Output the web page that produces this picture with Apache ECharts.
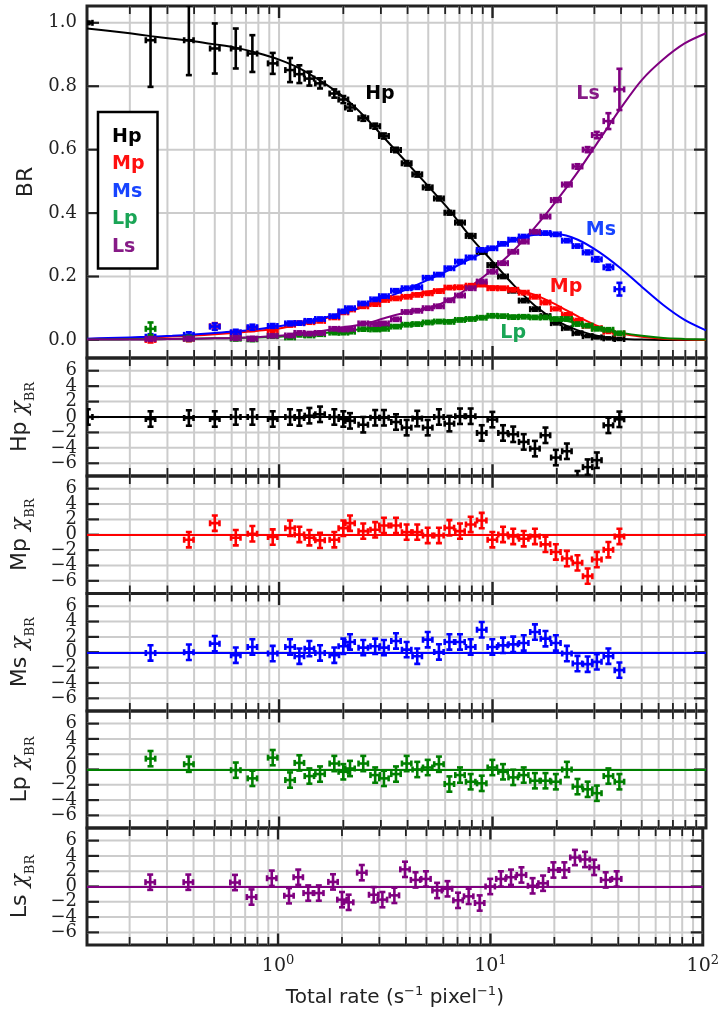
<!DOCTYPE html>
<html>
<head>
<meta charset="utf-8">
<script src="https://cdn.jsdelivr.net/npm/echarts@6.0.0/dist/echarts.min.js"></script>
<style>
  html, body { margin: 0; padding: 0; background: #fff; }
  #chart { width: 722px; height: 1015px; }
</style>
</head>
<body>
<div id="chart"></div>
<script>
// ---- model curves (BR vs total rate) ----
const curveX = [0.126, 0.158, 0.2, 0.251, 0.316, 0.398, 0.501, 0.631, 0.794, 1, 1.26, 1.58, 2, 2.51, 3.16, 3.98, 5.01, 6.31, 7.94, 10, 12.6, 15.8, 20, 25.1, 31.6, 39.8, 50.1, 63.1, 79.4, 100];
const hpModel = [0.982, 0.975, 0.967, 0.958, 0.950, 0.942, 0.932, 0.921, 0.905, 0.884, 0.855, 0.815, 0.767, 0.705, 0.632, 0.558, 0.484, 0.408, 0.322, 0.247, 0.172, 0.108, 0.060, 0.030, 0.012, 0.004, 0.001, 0, 0, 0];
const mpModel = [0.003, 0.004, 0.006, 0.008, 0.011, 0.014, 0.018, 0.023, 0.029, 0.036, 0.05, 0.065, 0.084, 0.105, 0.125, 0.14, 0.153, 0.163, 0.169, 0.169, 0.16, 0.142, 0.11, 0.074, 0.042, 0.021, 0.01, 0.004, 0.001, 0];
const msModel = [0.004, 0.006, 0.008, 0.01, 0.013, 0.017, 0.022, 0.027, 0.034, 0.043, 0.054, 0.068, 0.085, 0.106, 0.132, 0.16, 0.19, 0.222, 0.257, 0.288, 0.315, 0.332, 0.333, 0.316, 0.277, 0.226, 0.167, 0.11, 0.063, 0.03];
const lpModel = [0.001, 0.001, 0.002, 0.002, 0.003, 0.004, 0.005, 0.006, 0.008, 0.01, 0.015, 0.021, 0.028, 0.035, 0.043, 0.049, 0.056, 0.062, 0.069, 0.074, 0.076, 0.073, 0.066, 0.052, 0.036, 0.023, 0.013, 0.006, 0.003, 0.001];
const lsModel = [0.001, 0.001, 0.001, 0.002, 0.003, 0.004, 0.005, 0.006, 0.009, 0.013, 0.02, 0.028, 0.04, 0.05, 0.07, 0.087, 0.1, 0.127, 0.17, 0.222, 0.283, 0.355, 0.44, 0.53, 0.63, 0.73, 0.82, 0.885, 0.935, 0.967];

// ---- measured BR per rate bin ----
const rateX = [0.127, 0.25, 0.378, 0.5, 0.627, 0.75, 0.934, 1.126, 1.245, 1.387, 1.556, 1.815, 2.0, 2.15, 2.48, 2.82, 3.1, 3.53, 3.96, 4.44, 4.97, 5.61, 6.28, 7.04, 7.9, 8.9, 9.98, 11.2, 12.5, 14.0, 15.8, 17.7, 19.8, 22.3, 25.0, 27.9, 30.8, 34.9, 39.3];
const hpBR = [1.0, 0.945, 0.945, 0.919, 0.919, 0.903, 0.872, 0.851, 0.838, 0.824, 0.809, 0.777, 0.758, 0.733, 0.699, 0.674, 0.643, 0.599, 0.557, 0.522, 0.481, 0.446, 0.401, 0.370, 0.328, 0.278, 0.236, 0.200, 0.155, 0.124, 0.097, 0.075, 0.053, 0.037, 0.021, 0.012, 0.008, 0.005, 0.003];
const hpErr = [0.004, 0.147, 0.11, 0.079, 0.063, 0.058, 0.033, 0.038, 0.028, 0.022, 0.016, 0.013, 0.011, 0.01, 0.008, 0.008, 0.008, 0.007, 0.007, 0.007, 0.007, 0.006, 0.006, 0.006, 0.006, 0.006, 0.006, 0.005, 0.005, 0.005, 0.005, 0.005, 0.004, 0.004, 0.004, 0.003, 0.003, 0.003, 0.003];
const mpBR = [null, 0.0, 0.004, 0.043, 0.022, 0.036, 0.03, 0.048, 0.053, 0.056, 0.06, 0.071, 0.087, 0.096, 0.106, 0.113, 0.126, 0.131, 0.136, 0.142, 0.147, 0.154, 0.165, 0.166, 0.171, 0.175, 0.163, 0.163, 0.158, 0.149, 0.136, 0.118, 0.098, 0.08, 0.062, 0.044, 0.037, 0.026, 0.02];
const mpErr = [null, 0.008, 0.008, 0.01, 0.008, 0.008, 0.006, 0.006, 0.005, 0.005, 0.005, 0.005, 0.005, 0.005, 0.005, 0.005, 0.005, 0.005, 0.005, 0.005, 0.005, 0.005, 0.005, 0.005, 0.005, 0.005, 0.005, 0.005, 0.005, 0.005, 0.005, 0.005, 0.004, 0.004, 0.004, 0.004, 0.004, 0.004, 0.004];
const msBR = [null, 0.01, 0.016, 0.042, 0.024, 0.04, 0.044, 0.052, 0.053, 0.06, 0.066, 0.075, 0.09, 0.1, 0.115, 0.128, 0.138, 0.155, 0.163, 0.166, 0.196, 0.206, 0.226, 0.247, 0.26, 0.284, 0.289, 0.303, 0.316, 0.326, 0.338, 0.337, 0.333, 0.313, 0.296, 0.276, 0.254, 0.229, 0.16];
const msErr = [null, 0.008, 0.008, 0.01, 0.008, 0.008, 0.006, 0.006, 0.005, 0.005, 0.005, 0.005, 0.005, 0.005, 0.005, 0.005, 0.005, 0.005, 0.005, 0.005, 0.005, 0.005, 0.005, 0.005, 0.005, 0.005, 0.005, 0.005, 0.005, 0.005, 0.005, 0.005, 0.005, 0.005, 0.005, 0.006, 0.007, 0.008, 0.02];
const lpBR = [null, 0.035, 0.005, null, 0.004, 0.002, 0.012, 0.008, 0.016, 0.014, 0.018, 0.023, 0.023, 0.026, 0.034, 0.033, 0.035, 0.042, 0.048, 0.05, 0.055, 0.058, 0.057, 0.063, 0.066, 0.07, 0.076, 0.075, 0.072, 0.073, 0.071, 0.071, 0.066, 0.066, 0.05, 0.045, 0.035, 0.032, 0.021];
const lpErr = [null, 0.02, 0.008, null, 0.006, 0.006, 0.005, 0.005, 0.005, 0.005, 0.005, 0.005, 0.005, 0.005, 0.005, 0.005, 0.005, 0.005, 0.005, 0.005, 0.005, 0.005, 0.005, 0.005, 0.005, 0.005, 0.005, 0.005, 0.005, 0.005, 0.005, 0.005, 0.005, 0.005, 0.005, 0.005, 0.005, 0.005, 0.005];
const lsBR = [null, 0.003, 0.004, null, 0.006, 0.004, 0.013, 0.014, 0.022, 0.02, 0.022, 0.035, 0.033, 0.035, 0.052, 0.05, 0.052, 0.065, 0.088, 0.092, 0.1, 0.106, 0.125, 0.14, 0.163, 0.184, 0.215, 0.242, 0.278, 0.31, 0.341, 0.389, 0.441, 0.49, 0.547, 0.6, 0.646, 0.69, 0.79];
const lsErr = [null, 0.006, 0.006, null, 0.006, 0.006, 0.005, 0.005, 0.005, 0.005, 0.005, 0.005, 0.005, 0.005, 0.005, 0.005, 0.005, 0.005, 0.005, 0.005, 0.005, 0.005, 0.005, 0.005, 0.005, 0.005, 0.005, 0.005, 0.005, 0.005, 0.005, 0.005, 0.006, 0.006, 0.007, 0.008, 0.01, 0.025, 0.065];

// ---- normalised residuals (chi) ----
const hpChi = [0, -0.26, -0.13, -0.26, 0, 0, -0.26, 0, -0.13, 0.17, 0.35, 0, -0.26, -0.5, -1.0, -0.1, -0.1, -0.65, -1.38, -0.2, -1.38, 0, -0.86, 0.1, 0.1, -2.07, -0.34, -2.07, -2.24, -3.23, -4.1, -2.37, -5.26, -4.44, -8.0, -6.5, -5.6, -1.08, -0.3];
const mpChi = [null, null, -0.65, 1.51, -0.39, 0.13, -0.3, 0.86, 0.04, -0.39, -0.73, -0.65, 0.86, 1.51, 0.47, 0.65, 1.21, 1.21, 0.34, 0.34, -0.09, -0.09, 0.9, 0.47, 1.34, 1.85, -0.65, 0.04, -0.22, -0.52, -0.22, -1.25, -2.24, -3.1, -3.66, -5.39, -3.23, -1.94, -0.22];
const msChi = [null, -0.09, 0, 1.12, -0.39, 0.69, -0.17, 0.69, -0.52, 0.47, -0.09, -0.39, 0.78, 1.34, 0.6, 0.78, 0.6, 1.47, 0.34, -0.52, 1.64, 0.04, 1.34, 1.34, 0.69, 2.93, 0.69, 0.9, 1.03, 1.21, 2.63, 1.77, 1.21, -0.17, -1.47, -1.55, -1.25, -0.52, -2.33];
const lpChi = [null, 1.42, 0.69, null, -0.09, -1.16, 1.55, -1.38, 0.86, -0.86, -0.6, 0.78, -0.3, 0.13, 0.78, -0.73, -1.16, -0.6, 0.78, 0, 0.26, 0.69, -1.9, -0.73, -1.6, -1.81, 0.26, -0.3, -1.03, -0.73, -1.47, -1.47, -1.6, 0, -2.24, -2.59, -3.1, -0.86, -1.6];
const lsChi = [null, 0.56, 0.56, null, 0.52, -1.38, 1.08, -1.21, 1.21, -0.86, -0.86, 0.6, -1.72, -2.07, 1.81, -1.08, -1.72, -1.16, 2.24, 0.86, 0.99, -0.52, -0.3, -1.81, -1.29, -2.16, 0, 0.99, 1.21, 1.51, 0.09, 0.43, 2.16, 2.16, 3.79, 3.53, 2.5, 0.86, 0.99];

// ---- ticks ----
const xTicks = [0.2, 0.3, 0.4, 0.5, 0.6, 0.7, 0.8, 0.9, 1, 2, 3, 4, 5, 6, 7, 8, 9, 10, 20, 30, 40, 50, 60, 70, 80, 90];
const brTicks = [0, 0.2, 0.4, 0.6, 0.8, 1.0];
const chiTicks = [-6, -4, -2, 0, 2, 4, 6];

// ---- in-plot labels ----
const annotNames = ['Hp', 'Ls', 'Ms', 'Mp', 'Lp'];
const annotX = [2.97, 28.0, 32.2, 22.1, 12.5];
const annotY = [0.775, 0.775, 0.347, 0.167, 0.022];

const X_MIN = 0.126, X_MAX = 100;
const XERR = 1.052;   // half-width of the bin bars (log)
const CHI_ERR = 1;
const COLORS = { Hp: '#000000', Mp: '#ff0000', Ms: '#0000ff', Lp: '#008000', Ls: '#800080' };
const TEXT_COLORS = { Hp: '#000000', Mp: '#ff1010', Ms: '#1744ff', Lp: '#1aa556', Ls: '#861a86' };
const FRAME = '#222222';
const TICK_FONT = '18px "DejaVu Serif"';

const comps = [
  { name: 'Hp', model: hpModel, br: hpBR, err: hpErr, chi: hpChi },
  { name: 'Mp', model: mpModel, br: mpBR, err: mpErr, chi: mpChi },
  { name: 'Ms', model: msModel, br: msBR, err: msErr, chi: msChi },
  { name: 'Lp', model: lpModel, br: lpBR, err: lpErr, chi: lpChi },
  { name: 'Ls', model: lsModel, br: lsBR, err: lsErr, chi: lsChi }
];

const panels = [
  { top: 6, height: 352, min: -0.057, max: 1.053, ticks: brTicks },
  { top: 358, height: 118, min: -7.65, max: 7.65, ticks: chiTicks },
  { top: 476, height: 117.5, min: -7.65, max: 7.65, ticks: chiTicks },
  { top: 593.5, height: 117.5, min: -7.65, max: 7.65, ticks: chiTicks },
  { top: 711, height: 117, min: -7.65, max: 7.65, ticks: chiTicks },
  { top: 828, height: 117, min: -7.65, max: 7.65, ticks: chiTicks }
];

const isDecade = v => Math.abs(Math.log10(v) - Math.round(Math.log10(v))) < 1e-9;
const brLabel = v => v.toFixed(1);
const chiLabel = v => (v < 0 ? '\u2212' + (-v) : String(v));

function vFrame(p) {
  return (params, api) => {
    const v = api.value(0);
    const lo = api.coord([v, p.min]);
    const hi = api.coord([v, p.max]);
    const len = isDecade(v) ? 12 : 8;
    const tw = isDecade(v) ? 2.4 : 1.8;
    return {
      type: 'group', children: [
        { type: 'line', shape: { x1: lo[0], y1: lo[1], x2: hi[0], y2: hi[1] }, style: { stroke: '#cccccc', lineWidth: 2 } },
        { type: 'line', shape: { x1: lo[0], y1: lo[1], x2: lo[0], y2: lo[1] - len }, style: { stroke: FRAME, lineWidth: tw } },
        { type: 'line', shape: { x1: hi[0], y1: hi[1], x2: hi[0], y2: hi[1] + len }, style: { stroke: FRAME, lineWidth: tw } }
      ]
    };
  };
}

// horizontal grid lines, y ticks and their labels (labels drawn here so crowded ticks all stay visible)
function hFrame(fmt) {
  return (params, api) => {
    const v = api.value(1);
    const a = api.coord([X_MIN, v]);
    const b = api.coord([X_MAX, v]);
    return {
      type: 'group', children: [
        { type: 'line', shape: { x1: a[0], y1: a[1], x2: b[0], y2: b[1] }, style: { stroke: '#cccccc', lineWidth: 2 } },
        { type: 'line', shape: { x1: a[0], y1: a[1], x2: a[0] + 12, y2: a[1] }, style: { stroke: FRAME, lineWidth: 2.2 } },
        { type: 'line', shape: { x1: b[0] - 12, y1: b[1], x2: b[0], y2: b[1] }, style: { stroke: FRAME, lineWidth: 2.2 } },
        { type: 'text', style: { text: fmt(v), x: a[0] - 10, y: a[1], align: 'right', verticalAlign: 'middle', font: TICK_FONT, fill: FRAME } }
      ]
    };
  };
}

function errBars(color) {
  return (params, api) => {
    const x = api.value(0), y = api.value(1), e = api.value(2);
    const t = api.coord([x, y + e]), b = api.coord([x, y - e]);
    const l = api.coord([x / XERR, y]), r = api.coord([x * XERR, y]);
    const st = { stroke: color, lineWidth: 2.6 };
    const seg = (x1, y1, x2, y2) => ({ type: 'line', shape: { x1, y1, x2, y2 }, style: st });
    return {
      type: 'group', children: [
        seg(t[0], t[1], b[0], b[1]),
        seg(l[0], l[1], r[0], r[1]),
        seg(t[0] - 3, t[1], t[0] + 3, t[1]),
        seg(b[0] - 3, b[1], b[0] + 3, b[1]),
        seg(l[0], l[1] - 3, l[0], l[1] + 3),
        seg(r[0], r[1] - 3, r[0], r[1] + 3)
      ]
    };
  };
}

const chart = echarts.init(document.getElementById('chart'));

const grid = panels.map(p => ({
  left: 87, right: 16, top: p.top, height: p.height,
  show: true, borderColor: FRAME, borderWidth: 3, backgroundColor: 'transparent'
}));

const xAxis = panels.map((p, i) => ({
  type: 'log', logBase: 10, gridIndex: i, min: X_MIN, max: X_MAX,
  axisLine: { show: false }, axisTick: { show: false }, splitLine: { show: false },
  axisLabel: {
    show: i === panels.length - 1,
    margin: 9,
    formatter: v => isDecade(v) ? '{b|10}{s|' + Math.round(Math.log10(v)) + '}' : '',
    rich: {
      b: { fontFamily: 'DejaVu Serif', fontSize: 19, color: FRAME, verticalAlign: 'bottom' },
      s: { fontFamily: 'DejaVu Serif', fontSize: 13, color: FRAME, verticalAlign: 'bottom', padding: [0, 0, 9, 0] }
    }
  },
  name: i === panels.length - 1 ? '{t|Total rate (s}{u|\u22121}{t| pixel}{u|\u22121}{t|)}' : '',
  nameLocation: 'middle', nameGap: 40,
  nameTextStyle: {
    rich: {
      t: { fontFamily: 'DejaVu Sans', fontSize: 20, color: FRAME, verticalAlign: 'bottom' },
      u: { fontFamily: 'DejaVu Sans', fontSize: 13, color: FRAME, verticalAlign: 'bottom', padding: [0, 0, 10, 0] }
    }
  }
}));

const yAxis = panels.map((p, i) => ({
  type: 'value', gridIndex: i, min: p.min, max: p.max,
  axisLine: { show: false }, axisTick: { show: false }, splitLine: { show: false },
  axisLabel: { show: false },
  name: i === 0 ? 'BR' : '{a|' + comps[i - 1].name + '} {b|\u03c7}{c|BR}',
  nameLocation: 'middle', nameRotate: 90, nameGap: 50,
  nameTextStyle: {
    fontFamily: 'DejaVu Sans', fontSize: 22, color: FRAME,
    rich: {
      a: { fontFamily: 'DejaVu Sans', fontSize: 22, color: FRAME, verticalAlign: 'bottom', padding: [0, 0, 6, 0] },
      b: { fontFamily: 'DejaVu Serif', fontSize: 22, fontStyle: 'italic', color: FRAME, verticalAlign: 'bottom', padding: [0, 0, 6, 0] },
      c: { fontFamily: 'DejaVu Serif', fontSize: 13, color: FRAME, verticalAlign: 'bottom' }
    }
  }
}));

const series = [];
panels.forEach((p, i) => {
  series.push({
    type: 'custom', name: 'xgrid' + i, xAxisIndex: i, yAxisIndex: i, z: 1, silent: true,
    renderItem: vFrame(p), data: xTicks.map(v => [v, p.min])
  });
  series.push({
    type: 'custom', name: 'ygrid' + i, xAxisIndex: i, yAxisIndex: i, z: 1, silent: true,
    renderItem: hFrame(i === 0 ? brLabel : chiLabel), data: p.ticks.map(v => [X_MIN, v])
  });
});

comps.forEach((c, k) => {
  const col = COLORS[c.name];
  series.push({
    type: 'line', name: c.name, xAxisIndex: 0, yAxisIndex: 0, z: 3,
    smooth: 0.3, symbol: 'none', color: col,
    lineStyle: { color: col, width: 2 },
    data: curveX.map((x, j) => [x, c.model[j]])
  });
  series.push({
    type: 'custom', name: c.name, xAxisIndex: 0, yAxisIndex: 0, z: 4, clip: true,
    itemStyle: { color: col },
    renderItem: errBars(col),
    data: rateX.map((x, j) => c.br[j] == null ? null : [x, c.br[j], c.err[j]]).filter(d => d)
  });
  series.push({
    type: 'custom', name: c.name + ' chi', xAxisIndex: k + 1, yAxisIndex: k + 1, z: 4, clip: true,
    itemStyle: { color: col },
    renderItem: errBars(col),
    data: rateX.map((x, j) => c.chi[j] == null ? null : [x, c.chi[j], CHI_ERR]).filter(d => d),
    markLine: {
      silent: true, symbol: 'none', label: { show: false },
      lineStyle: { color: col, width: 2, type: 'solid' },
      data: [{ yAxis: 0 }]
    }
  });
});

series.push({
  type: 'scatter', name: 'labels', xAxisIndex: 0, yAxisIndex: 0, z: 6, silent: true,
  symbolSize: 0, itemStyle: { color: 'transparent', opacity: 1 },
  label: { show: true, position: 'inside', formatter: '{b}', fontFamily: 'DejaVu Sans', fontWeight: 'bold', fontSize: 19, opacity: 1 },
  data: annotNames.map((n, k) => ({ name: n, value: [annotX[k], annotY[k]], label: { color: TEXT_COLORS[n] } }))
});

chart.setOption({
  animation: false,
  backgroundColor: '#ffffff',
  grid, xAxis, yAxis, series,
  legend: {
    show: true, orient: 'vertical', left: 98, top: 112,
    selectedMode: false, icon: 'none', itemWidth: 0, itemHeight: 0, itemGap: 0,
    padding: [11, 13, 8, 9],
    borderColor: '#000', borderWidth: 2.5, backgroundColor: '#fff',
    textStyle: { fontFamily: 'DejaVu Sans', fontWeight: 'bold', fontSize: 19, lineHeight: 27.5 },
    data: comps.map(c => ({ name: c.name, textStyle: { color: TEXT_COLORS[c.name] } }))
  }
});
</script>
</body>
</html>
